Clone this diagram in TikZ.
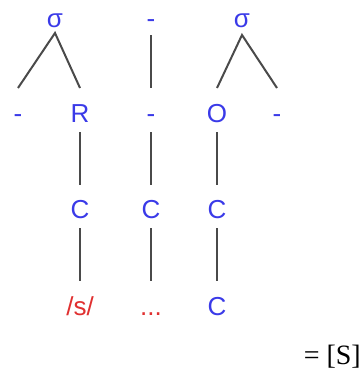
\documentclass[tikz,border=0pt]{standalone}
\usepackage{fontspec}
\setmainfont{Liberation Sans}
\newfontfamily\serifeq{Liberation Serif}
\definecolor{tblue}{HTML}{3A3AE8}
\definecolor{tred}{HTML}{E03030}
\definecolor{tline}{HTML}{4A4A4A}
\begin{document}
\begin{tikzpicture}[x=1pt,y=-1pt,
  lab/.style={inner sep=0pt,anchor=base,text=tblue,font=\fontsize{26}{30}\selectfont},
  rlab/.style={lab,text=tred},
  conn/.style={draw=tline,line width=2pt}]
\useasboundingbox (0,0) rectangle (363,370);
% row 0
\node[lab] (s1) at (55,27) {σ};
\node[lab] (m0) at (151,27) {-};
\node[lab] (s2) at (242,27) {σ};
% row 1
\node[lab] (d1) at (18,122) {-};
\node[lab] (r) at (80,122) {R};
\node[lab] (m1) at (151,122) {-};
\node[lab] (o) at (217,122) {O};
\node[lab] (d2) at (277,122) {-};
% row 2
\node[lab] (c1) at (80,218) {C};
\node[lab] (c2) at (151,218) {C};
\node[lab] (c3) at (217,218) {C};
% row 3
\node[rlab] (s) at (80,315) {/s/};
\node[rlab] (dots) at (151,315) {...};
\node[lab] (c4) at (217,315) {C};
% result
\node[inner sep=0pt,anchor=base east,font=\serifeq\fontsize{28}{32}\selectfont] (res) at (361,364) {= [S]};
% connectors
\draw[conn] ([yshift=34pt]d1.base) -- ([yshift=-6pt]s1.base) -- ([yshift=34pt]r.base);
\draw[conn] ([yshift=-8pt]m0.base) -- ([yshift=34pt]m1.base);
\draw[conn] ([yshift=34pt]o.base) -- ([yshift=-8pt]s2.base) -- ([yshift=34pt]d2.base);
\draw[conn] ([yshift=-10pt]r.base) -- ([yshift=33pt]c1.base);
\draw[conn] ([yshift=-10pt]m1.base) -- ([yshift=33pt]c2.base);
\draw[conn] ([yshift=-10pt]o.base) -- ([yshift=33pt]c3.base);
\draw[conn] ([yshift=-10pt]c1.base) -- ([yshift=34pt]s.base);
\draw[conn] ([yshift=-10pt]c2.base) -- ([yshift=34pt]dots.base);
\draw[conn] ([yshift=-10pt]c3.base) -- ([yshift=34pt]c4.base);
\end{tikzpicture}
\end{document}
